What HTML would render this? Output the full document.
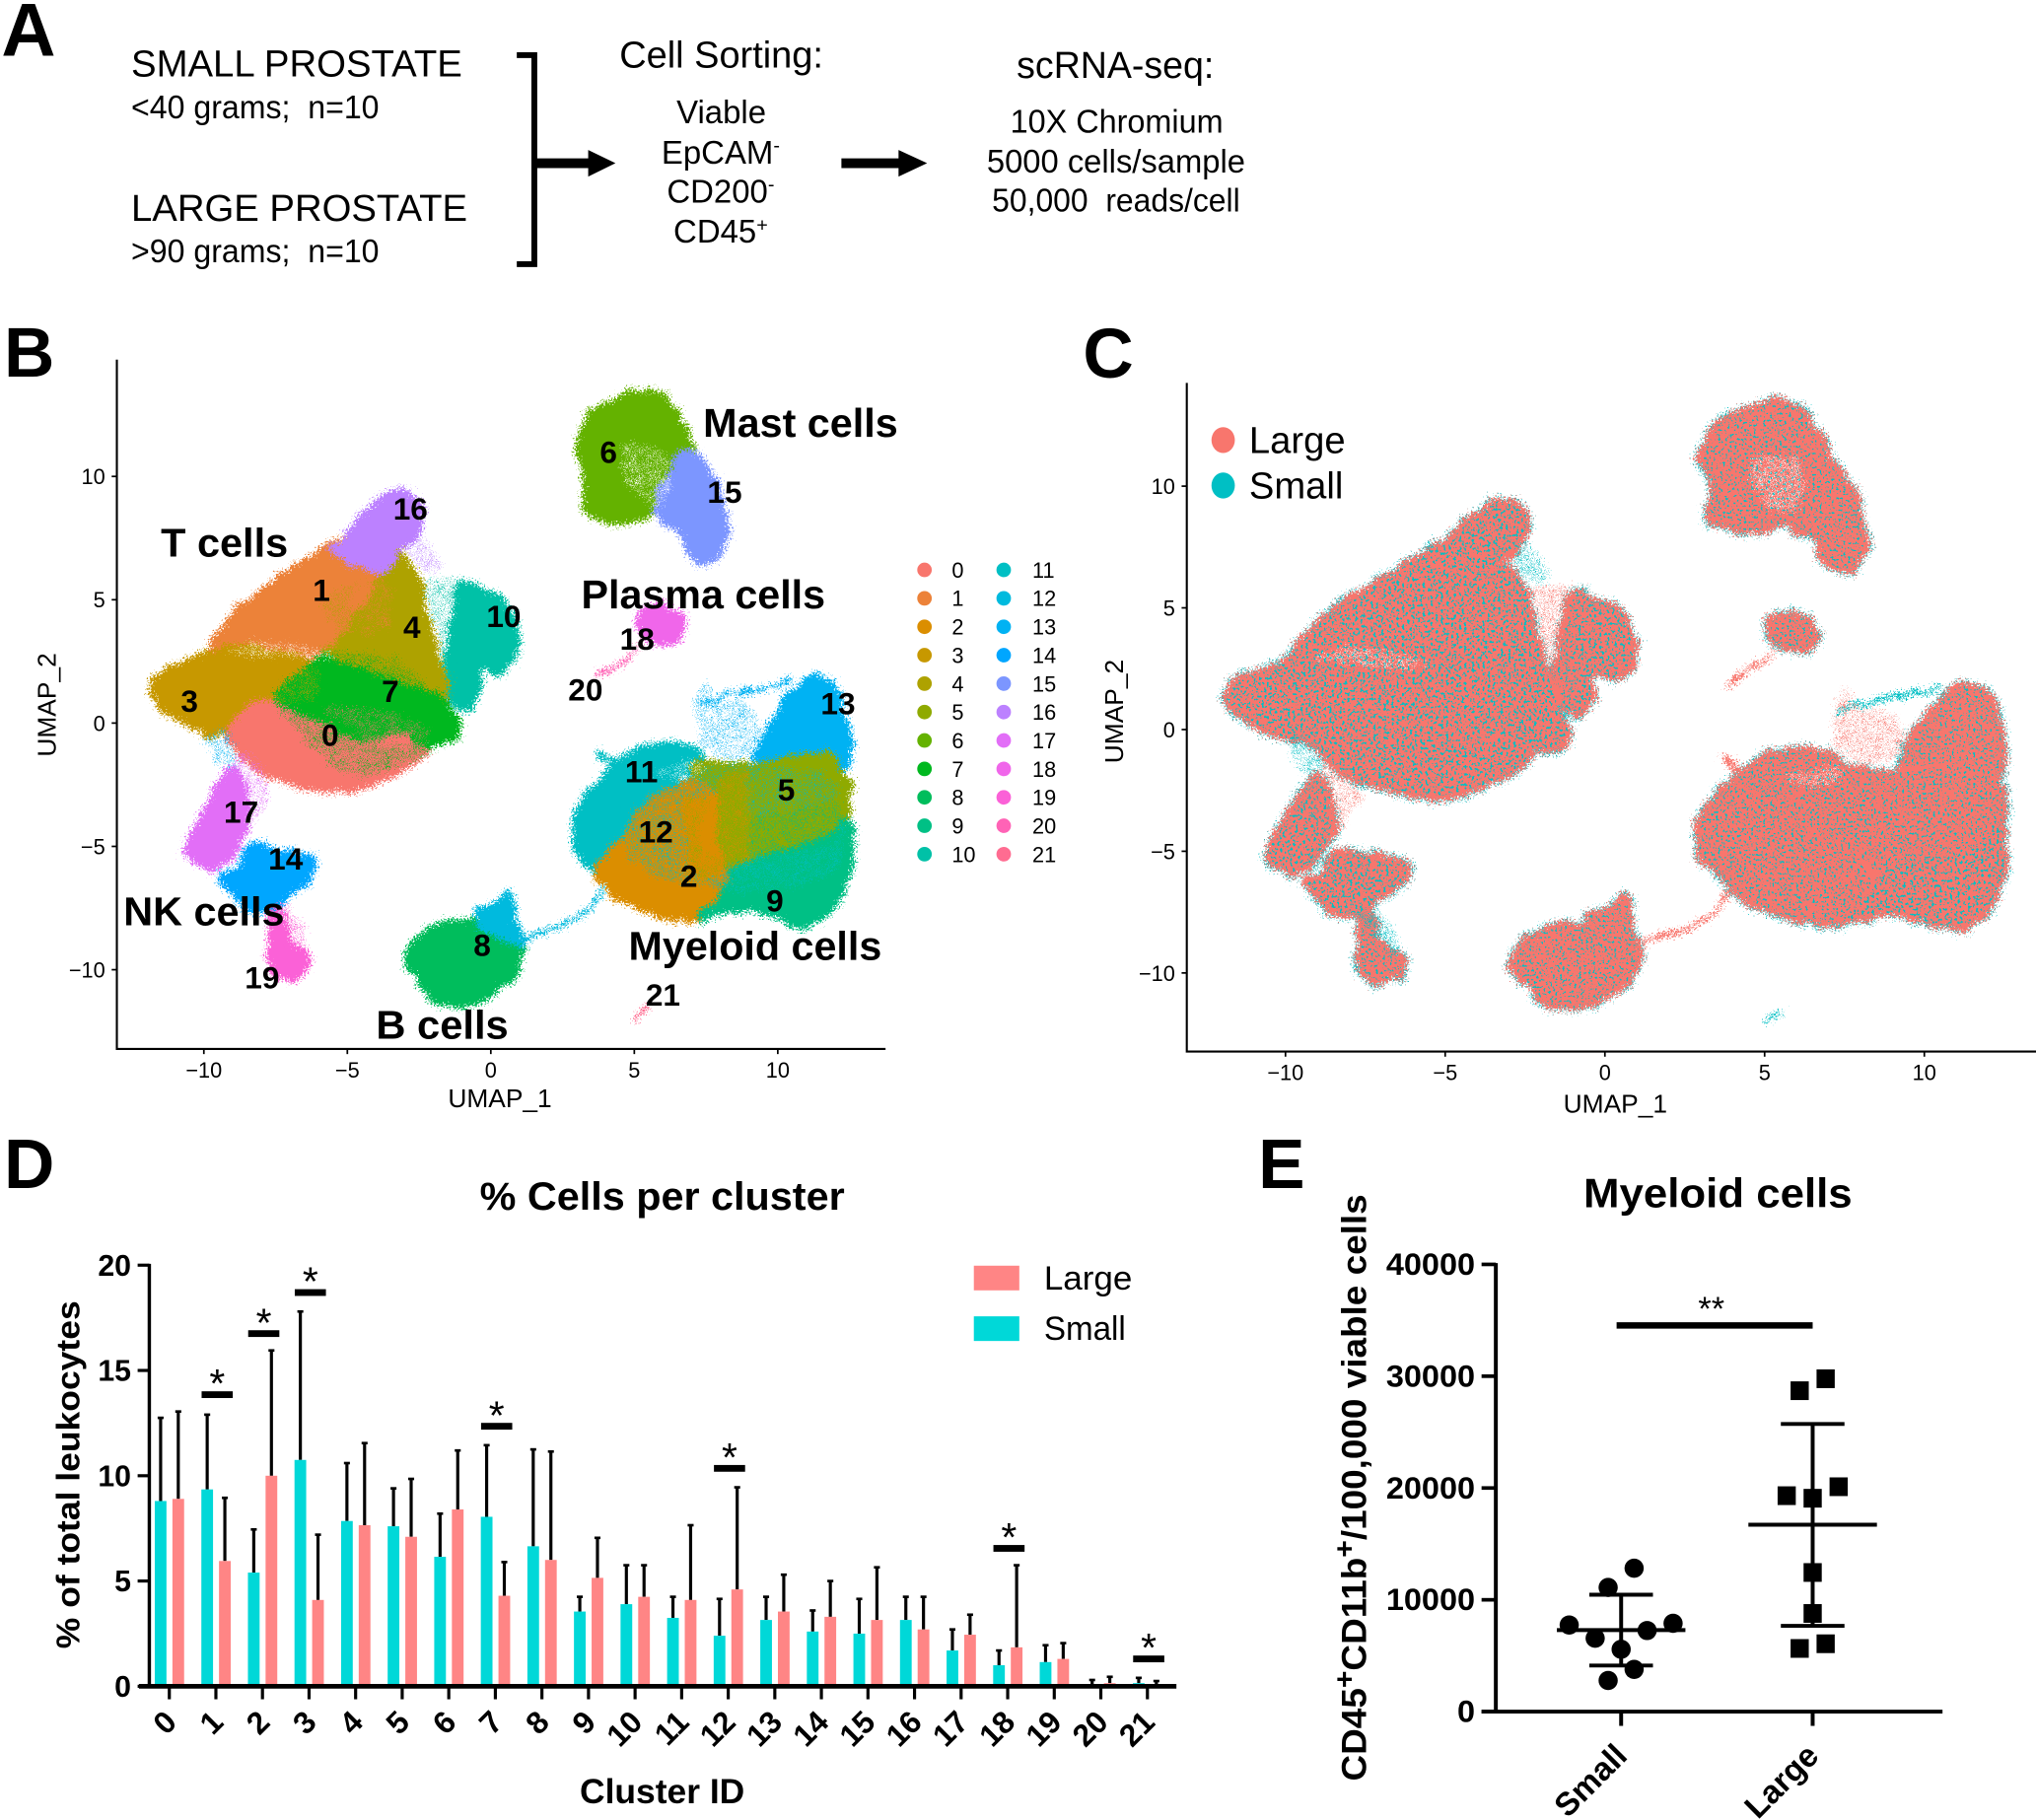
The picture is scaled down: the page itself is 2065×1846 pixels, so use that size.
<!DOCTYPE html>
<html><head><meta charset="utf-8"><title>Prostate leukocyte scRNA-seq figure</title>
<style>html,body{margin:0;padding:0;background:#fff}svg{display:block}text{font-family:"Liberation Sans",Arial,sans-serif;fill:#000}</style>
</head><body>
<svg id="fig" xmlns="http://www.w3.org/2000/svg" width="2065" height="1846" viewBox="0 0 1568 1402" preserveAspectRatio="none">
<defs>
<filter id="rough" x="-5%" y="-5%" width="110%" height="110%" color-interpolation-filters="sRGB">
<feTurbulence type="fractalNoise" baseFrequency="0.09" numOctaves="2" seed="7" result="c"/>
<feDisplacementMap in="SourceGraphic" in2="c" scale="9" xChannelSelector="R" yChannelSelector="G" result="w"/>
<feTurbulence type="fractalNoise" baseFrequency="0.75" numOctaves="2" seed="4" result="n"/>
<feDisplacementMap in="w" in2="n" scale="16" xChannelSelector="R" yChannelSelector="G"/>
</filter>
<filter id="sparse" x="-5%" y="-5%" width="110%" height="110%" color-interpolation-filters="sRGB">
<feTurbulence type="fractalNoise" baseFrequency="0.6" numOctaves="2" seed="9" result="n"/>
<feColorMatrix in="n" type="matrix" values="0 0 0 0 0 0 0 0 0 0 0 0 0 0 0 30 0 0 0 -17.4" result="t"/>
<feComposite in="SourceGraphic" in2="t" operator="in"/>
</filter>
<filter id="dense" x="-5%" y="-5%" width="110%" height="110%" color-interpolation-filters="sRGB">
<feTurbulence type="fractalNoise" baseFrequency="0.5" numOctaves="2" seed="17" result="n"/>
<feColorMatrix in="n" type="matrix" values="0 0 0 0 0 0 0 0 0 0 0 0 0 0 0 30 0 0 0 -17.4" result="t"/>
<feComposite in="SourceGraphic" in2="t" operator="in"/>
</filter>
<filter id="light" x="-5%" y="-5%" width="110%" height="110%" color-interpolation-filters="sRGB">
<feTurbulence type="fractalNoise" baseFrequency="0.55" numOctaves="2" seed="23" result="n"/>
<feColorMatrix in="n" type="matrix" values="0 0 0 0 0 0 0 0 0 0 0 0 0 0 0 30 0 0 0 -18.6" result="t"/>
<feComposite in="SourceGraphic" in2="t" operator="in"/>
</filter>
</defs>

<g>
<text x="1" y="43" font-size="58" font-weight="700">A</text>
<text x="101" y="59" font-size="29" textLength="255" lengthAdjust="spacingAndGlyphs">SMALL PROSTATE</text>
<text x="101" y="91" font-size="25" textLength="191" lengthAdjust="spacingAndGlyphs" xml:space="preserve">&lt;40 grams;  n=10</text>
<text x="101" y="170" font-size="29" textLength="259" lengthAdjust="spacingAndGlyphs">LARGE PROSTATE</text>
<text x="101" y="202" font-size="25" textLength="191" lengthAdjust="spacingAndGlyphs" xml:space="preserve">&gt;90 grams;  n=10</text>
<path d="M398,42.500 H411.500 V203.500 H398" fill="none" stroke="#000" stroke-width="4.500"/>
<path d="M412,122 H453 V115.500 L474,125.700 L453,136 V129.500 H412 Z" fill="#000"/>
<text x="555.500" y="52" font-size="29" text-anchor="middle" textLength="157" lengthAdjust="spacingAndGlyphs">Cell Sorting:</text>
<text x="555.500" y="95" font-size="25" text-anchor="middle">Viable</text>
<text x="555" y="126" font-size="25" text-anchor="middle">EpCAM<tspan font-size="15" dy="-9">-</tspan></text>
<text x="555" y="156" font-size="25" text-anchor="middle">CD200<tspan font-size="15" dy="-9">-</tspan></text>
<text x="555" y="187" font-size="25" text-anchor="middle">CD45<tspan font-size="15" dy="-9">+</tspan></text>
<path d="M648,122 H692 V115.500 L714,125.700 L692,136 V129.500 H648 Z" fill="#000"/>
<text x="859" y="60" font-size="29" text-anchor="middle" textLength="152" lengthAdjust="spacingAndGlyphs">scRNA-seq:</text>
<text x="860" y="102" font-size="25" text-anchor="middle" textLength="164" lengthAdjust="spacingAndGlyphs">10X Chromium</text>
<text x="859.500" y="133" font-size="25" text-anchor="middle" textLength="199" lengthAdjust="spacingAndGlyphs">5000 cells/sample</text>
<text x="859.500" y="163" font-size="25" text-anchor="middle" textLength="191" lengthAdjust="spacingAndGlyphs" xml:space="preserve">50,000  reads/cell</text>
</g>

<text x="3" y="290" font-size="54" font-weight="700">B</text>
<text x="834" y="291" font-size="54" font-weight="700">C</text>
<text x="3" y="915" font-size="54" font-weight="700">D</text>
<text x="969" y="915" font-size="54" font-weight="700">E</text>
<g id="panelB"></g>
<g id="panelC"></g>
<g id="panelD"></g>
<g id="panelE"></g>
</svg>

<script>
/* ---------- UMAP data (UMAP_1, UMAP_2 coordinates of each cluster's outline) ---------- */
const cluster0=[[-9.2,-0.4],[-8.5,0.5],[-7.5,0.95],[-6.3,0.35],[-4.6,-0.6],[-3.1,-0.3],[-2.2,-0.9],[-2.7,-1.6],[-3.6,-2.2],[-5.1,-2.75],[-6.5,-2.5],[-8,-2],[-8.7,-1.2]];
const cluster1=[[-9.9,2.9],[-8.9,4.5],[-7.5,5.7],[-5.8,7.1],[-5.1,7.6],[-5.6,6.8],[-4,6.2],[-3.3,6.3],[-4,5.5],[-5,3.5],[-5.8,2.7],[-7.5,3.1],[-9,3.5]];
const cluster2=[[3.6,-6.05],[4.6,-4.9],[5.05,-3.85],[6,-2.75],[7.1,-2.35],[7.85,-3.05],[7.7,-4.7],[8.45,-6.5],[7.25,-7.95],[6.65,-7.95],[5.3,-7.5],[4.35,-6.9]];
const cluster3=[[-11.9,1.3],[-11.5,2.05],[-10.6,2.4],[-9.9,2.9],[-9,3.4],[-7.5,3.1],[-5.8,2.7],[-6.8,1.85],[-7.5,1],[-8.5,0.5],[-9.2,-0.4],[-9.9,-0.4],[-10.6,0],[-11.5,0.7]];
const cluster4=[[-3.3,7],[-2.4,5.7],[-2.4,4.7],[-1.7,1.9],[-1.45,0.85],[-3,1.3],[-4,1.8],[-5.1,2.3],[-5.8,2.7],[-5,3.5],[-4,5.4]];
const cluster5=[[7.1,-1.6],[9.4,-1.8],[11.6,-1.2],[12.45,-2.2],[12.45,-3.85],[11.85,-4.7],[10.6,-5.1],[8.45,-5.9],[7.7,-4.7],[7.85,-3.05],[7.1,-2.3]];
const cluster6=[[3,11.25],[3.6,12.7],[5.3,13.5],[6.15,13.2],[7.1,11],[6.4,10.85],[5.8,8.6],[4.6,8.1],[3.2,8.6],[3.4,10]];
const cluster7=[[-7.5,1.05],[-6.8,1.85],[-5.8,2.7],[-5.1,2.3],[-3.6,1.7],[-1.7,1.05],[-1.1,0],[-1.3,-0.6],[-2.2,-0.9],[-3.1,-0.2],[-4.6,-0.6],[-6.3,0.4]];
const cluster8=[[-3,-9.6],[-2.4,-8.55],[-1.45,-8.05],[-0.25,-8.15],[0.85,-8.25],[1.1,-9.2],[0.85,-10.2],[0,-11],[-1.2,-11.5],[-1.9,-11.2],[-2.4,-10.4]];
const cluster9=[[8.45,-5.9],[10.6,-5.1],[11.85,-4.7],[12.45,-3.85],[12.55,-5.7],[12,-7.35],[11.15,-8.2],[10.2,-7.95],[9.25,-7.45],[7.85,-7.75],[7.25,-7.95],[8.45,-6.5]];
const cluster10=[[-1,5.7],[-0.4,5.4],[0.5,4.9],[0.9,3.7],[0.85,2.65],[0.25,2.05],[-0.25,2.45],[-0.5,2.1],[-0.4,1.3],[-0.9,0.5],[-1.35,1.1],[-1.5,2.5],[-1.3,4]];
const cluster11=[[2.9,-4.3],[3.15,-3.25],[4.1,-2],[5.05,-1.1],[6,-0.8],[7.25,-1.1],[7.5,-1.8],[7,-2.4],[6,-2.6],[5.05,-3.85],[4.6,-4.9],[4.6,-5.9],[3.6,-6],[3,-5.3]];
const cluster12=[[-0.55,-7.6],[0.25,-7.5],[0.65,-6.75],[0.8,-8.1],[1.1,-9],[0.5,-8.6],[-0.3,-8.2]];
const cluster13=[[9.2,-1.6],[9.65,-0.4],[10.4,1.05],[11.15,1.85],[12,1.55],[12.5,-0.6],[12.4,-2],[11.6,-1.2]];
const cluster14=[[-9.4,-6.3],[-8.8,-6.1],[-8.45,-5],[-7.5,-5.2],[-6.15,-5.5],[-6.3,-6.2],[-7,-6.85],[-7.6,-7.55],[-8.45,-7.55],[-8.9,-6.9]];
const cluster15=[[6.4,10.75],[7.1,11],[7.85,9.6],[8.2,7.8],[7.85,6.75],[7.4,6.55],[6.8,7],[6.7,7.8],[5.8,8.4],[5.8,9.2],[6.4,10.2]];
const cluster16=[[-5.7,7],[-4.8,7.8],[-4.1,8.8],[-3.2,9.5],[-2.4,8.8],[-2.6,7.6],[-3.3,7],[-3.75,6.15],[-4.35,6.35]];
const cluster17=[[-10.6,-5],[-10.15,-4.08],[-9.4,-2.45],[-8.95,-1.8],[-8.6,-2.6],[-8.5,-4.2],[-9.2,-5.5],[-9.8,-5.9],[-10.4,-5.5]];
const cluster18=[[5.2,4.5],[6.05,4.8],[6.65,4],[6.4,3.4],[5.7,3.3],[5.2,3.7]];
const cluster19=[[-7.6,-7.7],[-7.2,-7.7],[-7.2,-8.85],[-7,-8.85],[-6.4,-9.35],[-6.4,-10.1],[-7,-10.35],[-7.55,-10.1],[-7.7,-9.35],[-7.65,-8.75]];
const clusterIds=[11,13,5,2,9,3,1,4,0,7,16,10,17,14,19,8,12,6,15,18];
const clusterOutlines=[cluster0,cluster1,cluster2,cluster3,cluster4,cluster5,cluster6,cluster7,cluster8,cluster9,cluster10,cluster11,cluster12,cluster13,cluster14,cluster15,cluster16,cluster17,cluster18,cluster19];
const heavySmallClusters=[3,1,4,0,7,16,10,17,14,9];
const clusterPalette=["#F8766D","#EC8239","#DB8E00","#C79800","#AEA200","#8FAA00","#64B200","#00B81F","#00BD5C","#00C085","#00C1A7","#00BFC4","#00BADE","#00B2F3","#00A6FF","#7C96FF","#BC81FF","#E26EF7","#F066EA","#FB61D7","#FF63B6","#FF6C91"];
/* thin trails of cells */
const trail12=[[1,-8.8],[2.5,-8.2],[3.5,-7.5],[3.9,-6.7]];
const trail13=[[7.3,0.8],[8.9,1.3],[10.5,1.7]];
const trail20=[[3.75,1.85],[4.85,2.7],[5.3,3.3]];
const trail21=[[5,-12],[5.5,-11.5]];
const trail11=[[3.7,-1.2],[4.6,-1.9]];
/* loosely scattered cells: colour cluster + outline */
const looseGap10=[[-2.4,5.9],[-1,5.9],[-0.9,1],[-1.4,1],[-1.8,2.5]];
const loose16=[[-3,7],[-2.4,7.6],[-1.7,6.4],[-1.9,6],[-2.5,6.3]];
const loose17=[[-9.4,-2.4],[-9,-1],[-8.2,-1.5],[-7.6,-2.6],[-8.2,-4],[-9,-4.6]];
const loose13a=[[-10,-0.4],[-9,-0.4],[-8.8,-1.8],[-9.5,-1.8]];
const loose13b=[[7,1],[9,0.8],[9.5,-0.3],[9,-1.5],[7.5,-1.3]];
const loose13c=[[7.2,0.9],[7.5,1.8],[7.8,0.9],[7.6,-0.9],[7.3,-0.9]];
const loose7=[[-8,1.5],[-5.5,3],[-3,2.5],[-1.5,0.5],[-2,-1.3],[-5,-2.3],[-7,0]];
const loose11=[[4,-3],[8,-1.5],[12,-2],[12.4,-6],[9,-7],[5,-6]];
const loose9=[[8,-4],[11,-3.4],[12.3,-3],[12,-5],[9,-5.5]];
const looseTail19=[[-7.9,-7.4],[-6.9,-7.4],[-6.3,-9.3],[-7,-8.8]];
const loose4in1=[[-6,5],[-4,6],[-3.5,4.5],[-5,2.8]];
const loose1in4=[[-5,5.5],[-3.5,6],[-3.5,4],[-4.5,3.5]];
const loose3in7=[[-8,2.5],[-6,2.6],[-6,1],[-8,0.8]];
const loose0in7=[[-6,0.8],[-3,0.3],[-2,-0.6],[-4,-1]];
const loose5in2=[[6.5,-3],[8.5,-3],[8.5,-6],[7,-6.5]];
const loose2in5=[[7,-5],[8,-2],[9,-2],[9,-6]];
const loose4edge=[[-2.6,5.5],[-1.9,4],[-1.3,1.2],[-1.9,1.4],[-2.5,4]];
const looseIds=[10,16,17,13,13,13,7,11,9,19,4,1,3,0,5,2,4];
const looseOutlines=[looseGap10,loose16,loose17,loose13a,loose13b,loose13c,loose7,loose11,loose9,looseTail19,loose4in1,loose1in4,loose3in7,loose0in7,loose5in2,loose2in5,loose4edge];
/* cell-poor holes */
const hole1=[[-9.3,2.85],[-8,3.4],[-6,3],[-5.3,2.6],[-6.5,2.55],[-8,2.75]];
const hole6=[[4.5,11.3],[6,11.2],[6.3,9.8],[5.9,8.7],[5.3,9],[4.6,10]];
const hole6b=[[5.55,9.8],[6,9.9],[6.1,8.9],[5.7,8.9]];
const hole11=[[5.6,-2],[7,-1.4],[7.5,-2],[6.5,-2.4]];
const holeOutlines=[hole1,hole6,hole6b,hole6b,hole11];
const labelIds=[0,1,2,3,4,5,6,7,8,9,10,11,12,13,14,15,16,17,18,19,20,21];
const labelU=[-5.6,-5.9,6.9,-10.5,-2.75,10.3,4.1,-3.5,-0.3,9.9,0.45,5.25,5.75,12.1,-7.15,8.15,-2.8,-8.7,5.1,-7.97,3.3,6];
const labelV=[-0.47,5.4,-6.2,0.9,3.9,-2.7,11,1.3,-9,-7.2,4.35,-1.95,-4.4,0.8,-5.5,9.37,8.7,-3.6,3.425,-10.3,1.36,-11];
const umapXTicks=[-10,-5,0,5,10];
const umapYTicks=[-10,-5,0,5,10];

/* ---------- Panel D data ---------- */
const clusterCategories=["0","1","2","3","4","5","6","7","8","9","10","11","12","13","14","15","16","17","18","19","20","21"];
const smallPercent=[8.8,9.35,5.4,10.75,7.85,7.6,6.15,8.05,6.65,3.55,3.9,3.25,2.4,3.15,2.6,2.5,3.15,1.7,1,1.15,0.1,0.15];
const largePercent=[8.9,5.95,10,4.1,7.65,7.1,8.4,4.3,6,5.15,4.25,4.1,4.6,3.55,3.3,3.15,2.7,2.45,1.85,1.3,0.15,0.05];
const smallErrorTop=[12.75,12.9,7.45,17.8,10.6,9.4,8.2,11.45,11.25,4.25,5.75,4.25,4.15,4.25,3.6,4.15,4.25,2.7,1.7,1.95,0.3,0.4];
const largeErrorTop=[13.05,8.95,15.95,7.2,11.55,9.85,11.2,5.9,11.15,7.05,5.75,7.65,9.45,5.3,5,5.65,4.25,3.4,5.75,2.05,0.45,0.25];
const sigClusters=[1,2,3,7,12,18,21];
const sigHeights=[13.85,16.75,18.7,12.35,10.35,6.55,1.3];
const percentTicks=[0,5,10,15,20];

/* ---------- Panel E data ---------- */
const groupNames=["Small","Large"];
const smallCells=[12825,11107,7748,7901,7252,6565,5573,3779,2786];
const smallSwarmSlot=[1,-1,-4,4,2,-2,0,1,-1];
const largeCells=[29771,28702,20114,19313,19084,12443,8779,6069,5649];
const largeSwarmSlot=[1,-1,2,-2,0,0,0,1,-1];
const groupMean=[7290,16718];
const groupSdHigh=[10458,25725];
const groupSdLow=[4122,7672];
const sigBarLevel=34540;
const cellTicks=[0,10000,20000,30000,40000];

const NS="http://www.w3.org/2000/svg";
function mk(parent,tag,attrs,text){
  const el=document.createElementNS(NS,tag);
  for(const k in attrs){el.setAttribute(k,attrs[k]);}
  if(text!==undefined){el.textContent=text;}
  parent.appendChild(el);
  return el;
}
function ptsStr(pts,sx,sy){return pts.map(function(p){return sx(p[0]).toFixed(1)+","+sy(p[1]).toFixed(1);}).join(" ");}
function smooth(pts){
  const next=[];
  pts.forEach(function(p,i){
    const q=pts[(i+1)%pts.length];
    next.push([p[0]*0.85+q[0]*0.15,p[1]*0.85+q[1]*0.15]);
    next.push([p[0]*0.15+q[0]*0.85,p[1]*0.15+q[1]*0.85]);
  });
  return next;
}
function minusFmt(v){return v<0?"\u2212"+Math.abs(v):String(v);}

function umapAxes(g,sx,sy,x0,yTop,yBase,xEnd,xTitleX,xTitleY,yTitleX,yTitleY){
  let el=mk(g,"path",{d:"M"+x0+","+yTop+" V"+yBase+" H"+xEnd,fill:"none",stroke:"#000","stroke-width":1.6});
  
  
  umapXTicks.forEach(function(t){
    let tick=mk(g,"line",{x1:sx(t),x2:sx(t),y1:yBase,y2:yBase+4,stroke:"#000","stroke-width":1.3});
    
    
    let lab=mk(g,"text",{x:sx(t),y:yBase+22,"font-size":16.5,"text-anchor":"middle"},minusFmt(t));
    
    
  });
  umapYTicks.forEach(function(t){
    let tick=mk(g,"line",{x1:x0-4,x2:x0,y1:sy(t),y2:sy(t),stroke:"#000","stroke-width":1.3});
    
    
    let lab=mk(g,"text",{x:x0-9,y:sy(t)+6,"font-size":16.5,"text-anchor":"end"},minusFmt(t));
    
    
  });
  let xt=mk(g,"text",{x:xTitleX,y:xTitleY,"font-size":20,"text-anchor":"middle"},"UMAP_1");
  
  
  let yt=mk(g,"text",{transform:"translate("+yTitleX+","+yTitleY+") rotate(-90)","font-size":20,"text-anchor":"middle"},"UMAP_2");
  
  
}

/* ---------- Panel B ---------- */
(function(){
  const g=document.getElementById("panelB");
  const sx=function(u){return 378+22.1*u;};
  const sy=function(v){return 557-19*v;};
  umapAxes(g,sx,sy,90,277,808,682,385,853,43,543);
  const body=mk(g,"g",{filter:"url(#rough)"});
  
  
  clusterIds.forEach(function(id){
    let c=mk(body,"polygon",{points:ptsStr(smooth(clusterOutlines[id]),sx,sy),fill:clusterPalette[id],stroke:clusterPalette[id],"stroke-width":6,"stroke-linejoin":"round"});
    
    
  });
  const trails=[[trail12,12,3],[trail13,13,3],[trail20,20,2.5],[trail21,21,2.5],[trail11,11,6]];
  trails.forEach(function(t){
    let l=mk(body,"polyline",{points:ptsStr(t[0],sx,sy),fill:"none",stroke:clusterPalette[t[1]],"stroke-width":t[2]});
    
    
  });
  const looseWrap=mk(g,"g",{filter:"url(#rough)"});
  
  
  const loose=mk(looseWrap,"g",{filter:"url(#sparse)"});
  
  
  looseOutlines.forEach(function(o,i){
    let p=mk(loose,"polygon",{points:ptsStr(smooth(o),sx,sy),fill:clusterPalette[looseIds[i]]});
    
    
  });
  const holesWrap=mk(g,"g",{filter:"url(#rough)"});
  
  
  const holes=mk(holesWrap,"g",{filter:"url(#sparse)"});
  
  
  holeOutlines.forEach(function(o){
    let p=mk(holes,"polygon",{points:ptsStr(smooth(o),sx,sy),fill:"#fff"});
    
    
  });
  labelIds.forEach(function(id,i){
    let t=mk(g,"text",{x:sx(labelU[i]),y:sy(labelV[i])+8.5,"font-size":24,"font-weight":700,"text-anchor":"middle"},String(id));
    
    
  });
  const popNames=["T cells","Mast cells","Plasma cells","NK cells","Myeloid cells","B cells"];
  const popU=[-11.5,7.4,3.15,-12.8,4.8,-4];
  const popV=[6.75,11.6,4.65,-8.2,-9.6,-12.8];
  const popWidth=[98,150,188,124,195,102];
  popNames.forEach(function(n,i){
    let t=mk(g,"text",{x:sx(popU[i]),y:sy(popV[i]),"font-size":31,"font-weight":700,textLength:popWidth[i],lengthAdjust:"spacingAndGlyphs"},n);
    
    
  });
  labelIds.forEach(function(id,i){
    const col=i<11?0:1, row=i<11?i:i-11;
    let d=mk(g,"circle",{cx:col?773:712,cy:439+21.9*row,r:5.6,fill:clusterPalette[id]});
    
    
    let t=mk(g,"text",{x:col?795:733,y:445+21.9*row,"font-size":16.5},String(id));
    
    
  });
})();

/* ---------- Panel C ---------- */
(function(){
  const g=document.getElementById("panelC");
  const sx=function(u){return 1236+24.6*u;};
  const sy=function(v){return 562-18.75*v;};
  umapAxes(g,sx,sy,914,295,810,1568,1244,857,865,548);
  const rim=mk(g,"g",{filter:"url(#rough)"});
  
  
  const red=mk(g,"g",{filter:"url(#rough)"});
  
  
  const tealA=mk(g,"g",{filter:"url(#dense)"});
  
  
  const tealB=mk(g,"g",{filter:"url(#light)"});
  
  
  clusterIds.forEach(function(id){
    const pts=ptsStr(smooth(clusterOutlines[id]),sx,sy);
    let a=mk(rim,"polygon",{points:pts,fill:"#00BFC4",stroke:"#00BFC4","stroke-width":8,"stroke-linejoin":"round"});
    
    
  });
  clusterIds.forEach(function(id){
    const pts=ptsStr(smooth(clusterOutlines[id]),sx,sy);
    let b=mk(red,"polygon",{points:pts,fill:"#F8766D",stroke:"#F8766D","stroke-width":6,"stroke-linejoin":"round"});
    
    
    let c=mk(heavySmallClusters.indexOf(id)>=0?tealA:tealB,"polygon",{points:pts,fill:"#00BFC4"});
    
    
  });
  const trails=[[trail12,"#F8766D",3],[trail13,"#00BFC4",3],[trail20,"#F8766D",2.5],[trail21,"#00BFC4",2.5],[trail11,"#F8766D",5]];
  trails.forEach(function(t){
    let l=mk(red,"polyline",{points:ptsStr(t[0],sx,sy),fill:"none",stroke:t[1],"stroke-width":t[2]});
    
    
  });
  const looseWrap=mk(g,"g",{filter:"url(#rough)"});
  
  
  const loose=mk(looseWrap,"g",{filter:"url(#sparse)"});
  
  
  [looseGap10,loose16,loose17,loose13a,loose13b,looseTail19,loose13c].forEach(function(o,i){
    let p=mk(loose,"polygon",{points:ptsStr(smooth(o),sx,sy),fill:i%2?"#00BFC4":"#F8766D"});
    
    
  });
  const holesWrap=mk(g,"g",{filter:"url(#rough)"});
  
  
  const holes=mk(holesWrap,"g",{filter:"url(#sparse)"});
  
  
  holeOutlines.forEach(function(o){
    let p=mk(holes,"polygon",{points:ptsStr(smooth(o),sx,sy),fill:"#fff"});
    
    
  });
  const legendNames=["Large","Small"];
  const legendColors=["#F8766D","#00BFC4"];
  legendNames.forEach(function(n,i){
    let d=mk(g,"ellipse",{cx:942,cy:339+35*i,rx:9,ry:10,fill:legendColors[i]});
    
    
    let t=mk(g,"text",{x:962,y:349+35*i,"font-size":29},n);
    
    
  });
})();

/* ---------- Panel D ---------- */
(function(){
  const g=document.getElementById("panelD");
  const sx=function(i){return 130.4+35.87*i;};
  const sy=function(v){return 1299-16.22*v;};
  const smallColor="#00D8D8", largeColor="#FF8585";
  clusterCategories.forEach(function(c,i){
    let e1=mk(g,"line",{x1:sx(i)-6.7,x2:sx(i)-6.7,y1:sy(smallPercent[i]),y2:sy(smallErrorTop[i]),stroke:"#000","stroke-width":2.4});
    
    
    let cap1=mk(g,"line",{x1:sx(i)-9,x2:sx(i)-4.4,y1:sy(smallErrorTop[i]),y2:sy(smallErrorTop[i]),stroke:"#000","stroke-width":2});
    
    
    let e2=mk(g,"line",{x1:sx(i)+6.9,x2:sx(i)+6.9,y1:sy(largePercent[i]),y2:sy(largeErrorTop[i]),stroke:"#000","stroke-width":2.4});
    
    
    let cap2=mk(g,"line",{x1:sx(i)+4.6,x2:sx(i)+9.2,y1:sy(largeErrorTop[i]),y2:sy(largeErrorTop[i]),stroke:"#000","stroke-width":2});
    
    
    let b1=mk(g,"rect",{x:sx(i)-11.2,width:9,y:sy(smallPercent[i]),height:sy(0)-sy(smallPercent[i]),fill:smallColor});
    
    
    let b2=mk(g,"rect",{x:sx(i)+2.4,width:9,y:sy(largePercent[i]),height:sy(0)-sy(largePercent[i]),fill:largeColor});
    
    
    let tk=mk(g,"line",{x1:sx(i),x2:sx(i),y1:sy(0),y2:sy(0)+10,stroke:"#000","stroke-width":2.4});
    
    
    let lab=mk(g,"text",{transform:"translate("+(sx(i)+7)+",1328) rotate(-45)","font-size":24,"font-weight":700,"text-anchor":"end"},c);
    
    
  });
  let xAxis=mk(g,"line",{x1:107,x2:906,y1:sy(0),y2:sy(0),stroke:"#000","stroke-width":3.6});
  
  
  let yAxis=mk(g,"line",{x1:115,x2:115,y1:sy(20)-1,y2:sy(0),stroke:"#000","stroke-width":2.6});
  
  
  percentTicks.forEach(function(t){
    let k=mk(g,"line",{x1:106,x2:115,y1:sy(t),y2:sy(t),stroke:"#000","stroke-width":2.4});
    
    
    let l=mk(g,"text",{x:101,y:sy(t)+8,"font-size":23,"font-weight":700,"text-anchor":"end"},String(t));
    
    
  });
  sigClusters.forEach(function(c,i){
    let b=mk(g,"rect",{x:sx(c)-12+1,y:sy(sigHeights[i])-2.6,width:24,height:5.2,fill:"#000"});
    
    
    let s=mk(g,"text",{x:sx(c)+1,y:sy(sigHeights[i])+2,"font-size":31,"text-anchor":"middle"},"*");
    
    
  });
  let title=mk(g,"text",{x:510,y:932,"font-size":30,"font-weight":700,"text-anchor":"middle",textLength:281,lengthAdjust:"spacingAndGlyphs"},"% Cells per cluster");
  
  
  let xt=mk(g,"text",{x:510,y:1389,"font-size":27,"font-weight":700,"text-anchor":"middle",textLength:127,lengthAdjust:"spacingAndGlyphs"},"Cluster ID");
  
  
  let yt=mk(g,"text",{transform:"translate(61,1136) rotate(-90)","font-size":25,"font-weight":700,"text-anchor":"middle",textLength:268,lengthAdjust:"spacingAndGlyphs"},"% of total leukocytes");
  
  
  const legendNames=["Large","Small"];
  const legendColors=[largeColor,smallColor];
  legendNames.forEach(function(n,i){
    let r=mk(g,"rect",{x:750,y:975+39*i,width:35,height:19,fill:legendColors[i]});
    
    
    let t=mk(g,"text",{x:804,y:993.5+38.5*i,"font-size":26,textLength:i?63:68,lengthAdjust:"spacingAndGlyphs"},n);
    
    
  });
})();

/* ---------- Panel E ---------- */
(function(){
  const g=document.getElementById("panelE");
  const sx=function(i){return 1248.5+147.5*i;};
  const sy=function(v){return 1318.5-344.5*v/40000;};
  const slotWidth=10;
  let axes=mk(g,"path",{d:"M1152,"+(sy(40000)-1)+" V"+sy(0)+" M1141,"+sy(0)+" H1496",fill:"none",stroke:"#000","stroke-width":3});
  
  
  cellTicks.forEach(function(t){
    let k=mk(g,"line",{x1:1141,x2:1152,y1:sy(t),y2:sy(t),stroke:"#000","stroke-width":2.8});
    
    
    let l=mk(g,"text",{x:1136,y:sy(t)+8,"font-size":24,"font-weight":700,"text-anchor":"end",textLength:String(t).length*13.7,lengthAdjust:"spacingAndGlyphs"},String(t));
    
    
  });
  groupNames.forEach(function(n,i){
    let k=mk(g,"line",{x1:sx(i),x2:sx(i),y1:sy(0),y2:sy(0)+11,stroke:"#000","stroke-width":3});
    
    
    let l=mk(g,"text",{transform:"translate("+(sx(i)+6)+",1354) rotate(-45)","font-size":25,"font-weight":700,"text-anchor":"end"},n);
    
    
  });
  smallCells.forEach(function(v,i){
    let c=mk(g,"circle",{cx:sx(0)+smallSwarmSlot[i]*slotWidth,cy:sy(v),r:7.4,fill:"#000"});
    
    
  });
  largeCells.forEach(function(v,i){
    let c=mk(g,"rect",{x:sx(1)+largeSwarmSlot[i]*slotWidth-7,y:sy(v)-7.2,width:14,height:14.4,fill:"#000"});
    
    
  });
  groupNames.forEach(function(n,i){
    const lines=[[sx(i),sx(i),sy(groupSdLow[i]),sy(groupSdHigh[i])],[sx(i)-49.5,sx(i)+49.5,sy(groupMean[i]),sy(groupMean[i])],[sx(i)-24.5,sx(i)+24.5,sy(groupSdHigh[i]),sy(groupSdHigh[i])],[sx(i)-24.5,sx(i)+24.5,sy(groupSdLow[i]),sy(groupSdLow[i])]];
    lines.forEach(function(q){
      let l=mk(g,"line",{x1:q[0],x2:q[1],y1:q[2],y2:q[3],stroke:"#000","stroke-width":3});
      
      
    });
  });
  let bar=mk(g,"line",{x1:1245,x2:1396,y1:sy(sigBarLevel),y2:sy(sigBarLevel),stroke:"#000","stroke-width":5});
  
  
  let st=mk(g,"text",{x:1318,y:1017,"font-size":26,"text-anchor":"middle"},"**");
  
  
  let title=mk(g,"text",{x:1323,y:930,"font-size":32,"font-weight":700,"text-anchor":"middle",textLength:207,lengthAdjust:"spacingAndGlyphs"},"Myeloid cells");
  
  
  let yt=mk(g,"text",{transform:"translate(1052,1146) rotate(-90)","font-size":27,"font-weight":700,"text-anchor":"middle",textLength:452,lengthAdjust:"spacingAndGlyphs"});
  
  
  const parts=[["CD45",0,27],["+",-9,22],["CD11b",9,27],["+",-9,22],["/100,000 viable cells",9,27]];
  parts.forEach(function(p){
    let s=mk(yt,"tspan",{dy:p[1],"font-size":p[2]},p[0]);
    
    
  });
})();
</script>
</body></html>
